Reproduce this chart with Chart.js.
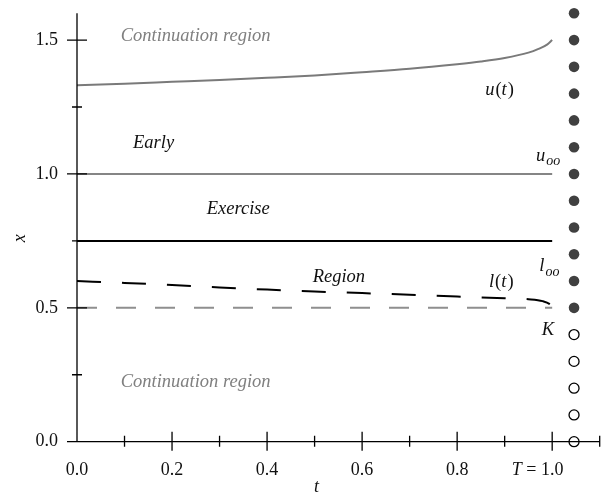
<!DOCTYPE html>
<html>
<head>
<meta charset="utf-8">
<script src="https://cdn.jsdelivr.net/npm/chart.js@4"></script>
<style>
  body { margin: 0; background: #fff; }
  #wrap { width: 606px; height: 495px; }
</style>
</head>
<body>
<div id="wrap"><canvas id="boundaryChart"></canvas></div>
<script>
// upper boundary u(t)
const uT = [0, 0.1, 0.2, 0.3, 0.4, 0.5, 0.6, 0.7, 0.8, 0.85, 0.9, 0.95, 0.97, 0.99, 1.0];
const uX = [1.331, 1.337, 1.344, 1.351, 1.359, 1.368, 1.380, 1.393, 1.410, 1.420, 1.433, 1.453, 1.466, 1.484, 1.500];

// lower boundary l(t)
const lT = [0, 0.1, 0.2, 0.3, 0.4, 0.5, 0.6, 0.7, 0.8, 0.9, 0.95, 0.98, 0.995, 1.0];
const lX = [0.600, 0.593, 0.585, 0.576, 0.568, 0.561, 0.555, 0.549, 0.542, 0.536, 0.532, 0.525, 0.514, 0.505];

// constant levels
const uInf = 1.0;
const midLevel = 0.75;
const strikeK = 0.5;
const levelSpan = [0, 1.0];

// dots at maturity T
const dotT = 1.046;
const filledDotsY = [0.5, 0.6, 0.7, 0.8, 0.9, 1.0, 1.1, 1.2, 1.3, 1.4, 1.5, 1.6];
const openDotsY = [0.0, 0.1, 0.2, 0.3, 0.4];

// ticks
const xMajorTicks = [0, 0.2, 0.4, 0.6, 0.8, 1.0];
const xTickLabels = ["0.0", "0.2", "0.4", "0.6", "0.8", "1.0"];
const xMinorTicks = [0.1, 0.3, 0.5, 0.7, 0.9, 1.1];
const yMajorTicks = [0, 0.5, 1.0, 1.5];
const yTickLabels = ["0.0", "0.5", "1.0", "1.5"];
const yMinorTicks = [0.25, 0.75, 1.25];

const serif = '"Liberation Serif", "DejaVu Serif", serif';

// text notes placed in data coordinates
const notes = [
  { parts: [["Continuation region", "italic"]], t: 0.092, x: 1.515, color: "#808080" },
  { parts: [["Continuation region", "italic"]], t: 0.092, x: 0.224, color: "#808080" },
  { parts: [["Early", "italic"]], t: 0.118, x: 1.116 },
  { parts: [["Exercise", "italic"]], t: 0.273, x: 0.869 },
  { parts: [["Region", "italic"]], t: 0.496, x: 0.615 },
  { parts: [["u", "italic"], ["(", ""], ["t", "italic"], [")", ""]], t: 0.859, x: 1.313 },
  { parts: [["l", "italic"], ["(", ""], ["t", "italic"], [")", ""]], t: 0.867, x: 0.597 },
  { parts: [["u", "italic"], ["oo", "italic", "sub"]], t: 0.966, x: 1.068 },
  { parts: [["l", "italic"], ["oo", "italic", "sub"]], t: 0.973, x: 0.655 },
  { parts: [["K", "italic"]], t: 0.978, x: 0.417 },
];

const pts = (xs, ys) => xs.map((v, i) => ({ x: v, y: ys[i] }));

const axesPlugin = {
  id: "axesPlugin",
  afterDatasetsDraw(chart) {
    const ctx = chart.ctx;
    const xs = chart.scales.x;
    const ys = chart.scales.y;
    const x0 = xs.getPixelForValue(0);
    const y0 = ys.getPixelForValue(0);
    ctx.save();
    ctx.strokeStyle = "#000";
    ctx.lineWidth = 1.3;
    ctx.beginPath();
    ctx.moveTo(x0, y0);
    ctx.lineTo(x0, ys.getPixelForValue(1.6));
    ctx.moveTo(x0, y0);
    ctx.lineTo(xs.getPixelForValue(1.1), y0);
    yMajorTicks.forEach(v => { const p = ys.getPixelForValue(v); ctx.moveTo(x0 - 10, p); ctx.lineTo(x0 + 10, p); });
    yMinorTicks.forEach(v => { const p = ys.getPixelForValue(v); ctx.moveTo(x0 - 5, p); ctx.lineTo(x0 + 5, p); });
    xMajorTicks.forEach(v => { if (v === 0) return; const p = xs.getPixelForValue(v); ctx.moveTo(p, y0 - 10); ctx.lineTo(p, y0 + 9); });
    xMinorTicks.forEach(v => { const p = xs.getPixelForValue(v); ctx.moveTo(p, y0 - 6); ctx.lineTo(p, y0 + 5); });
    ctx.stroke();

    ctx.fillStyle = "#111";
    ctx.font = "18px " + serif;
    ctx.textBaseline = "middle";
    ctx.textAlign = "right";
    yMajorTicks.forEach((v, i) => ctx.fillText(yTickLabels[i], x0 - 19, ys.getPixelForValue(v)));
    ctx.textAlign = "center";
    xMajorTicks.forEach((v, i) => ctx.fillText(xTickLabels[i], xs.getPixelForValue(v), y0 + 29));
    // "T = " prefix before the last tick label
    const last = xs.getPixelForValue(xMajorTicks[xMajorTicks.length - 1]);
    const lastLeft = last - ctx.measureText(xTickLabels[xTickLabels.length - 1]).width / 2;
    ctx.textAlign = "right";
    ctx.fillText(" = ", lastLeft, y0 + 29);
    const eqW = ctx.measureText(" = ").width;
    ctx.font = "italic 18px " + serif;
    ctx.fillText("T", lastLeft - eqW, y0 + 29);

    // axis titles
    ctx.textAlign = "center";
    ctx.fillText("t", xs.getPixelForValue(0.5) + 2, y0 + 46);
    ctx.save();
    ctx.translate(20, ys.getPixelForValue(0.76));
    ctx.rotate(-Math.PI / 2);
    ctx.fillText("x", 0, 0);
    ctx.restore();

    // notes
    notes.forEach(n => {
      let px = xs.getPixelForValue(n.t);
      const py = ys.getPixelForValue(n.x);
      ctx.fillStyle = n.color || "#111";
      ctx.textAlign = "left";
      n.parts.forEach(([txt, style, sub]) => {
        ctx.font = (style ? style + " " : "") + (sub ? "14px " : "18.5px ") + serif;
        ctx.fillText(txt, px, sub ? py + 6 : py);
        px += ctx.measureText(txt).width + (style && !sub ? 1 : 0);
      });
    });
    ctx.restore();
  }
};

new Chart(document.getElementById("boundaryChart"), {
  type: "line",
  data: {
    datasets: [
      { data: pts(uT, uX), borderColor: "#7a7a7a", borderWidth: 2, pointRadius: 0, cubicInterpolationMode: "monotone" },
      { data: pts(levelSpan, [uInf, uInf]), borderColor: "#858585", borderWidth: 2, pointRadius: 0 },
      { data: pts(levelSpan, [midLevel, midLevel]), borderColor: "#000", borderWidth: 2, pointRadius: 0 },
      { data: pts(levelSpan, [strikeK, strikeK]), borderColor: "#8f8f8f", borderWidth: 2, borderDash: [20, 19], pointRadius: 0 },
      { data: pts(lT, lX), borderColor: "#000", borderWidth: 2, borderDash: [24, 21], pointRadius: 0, cubicInterpolationMode: "monotone" },
      { data: filledDotsY.map(v => ({ x: dotT, y: v })), showLine: false, clip: false, pointRadius: 5.3, pointBackgroundColor: "#404040", pointBorderColor: "#404040", pointBorderWidth: 0 },
      { data: openDotsY.map(v => ({ x: dotT, y: v })), showLine: false, clip: false, pointRadius: 5, pointBackgroundColor: "rgba(0,0,0,0)", pointBorderColor: "#000", pointBorderWidth: 1.3 },
    ],
  },
  options: {
    responsive: true,
    maintainAspectRatio: false,
    animation: false,
    layout: { padding: { left: 77, right: 5.4, top: 13.3, bottom: 53.3 } },
    plugins: { legend: { display: false }, tooltip: { enabled: false } },
    scales: {
      x: { type: "linear", min: 0, max: 1.1, display: false },
      y: { min: 0, max: 1.6, display: false },
    },
  },
  plugins: [axesPlugin],
});
</script>
</body>
</html>
